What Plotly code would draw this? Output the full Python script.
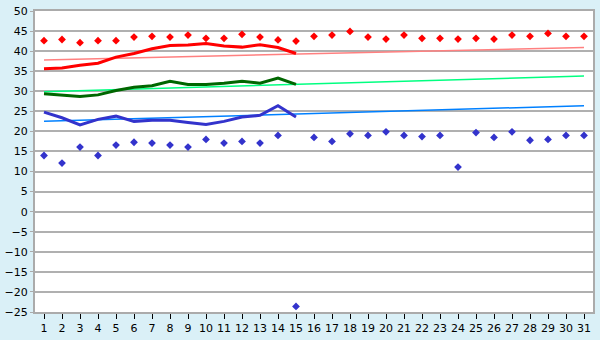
import plotly.graph_objects as go

days = list(range(1, 32))

max_temp = [42.6, 42.9, 42.1, 42.6, 42.6, 43.5, 43.7, 43.5, 44.0, 43.2,
            43.2, 44.2, 43.5, 42.8, 42.5, 43.7, 44.0, 44.9, 43.5, 43.0,
            44.0, 43.2, 43.2, 43.0, 43.2, 43.0, 44.0, 43.7, 44.4, 43.7, 43.7]
min_temp = [14.0, 12.1, 16.1, 14.0, 16.6, 17.3, 17.1, 16.6, 16.1, 18.0,
            17.1, 17.5, 17.1, 19.0, -23.6, 18.5, 17.5, 19.4, 19.0, 19.9,
            19.0, 18.7, 19.0, 11.1, 19.7, 18.5, 19.9, 17.8, 18.0, 19.0, 19.0]

days_cur = list(range(1, 16))
red_cur = [35.6, 35.8, 36.5, 37.0, 38.5, 39.4, 40.6, 41.4, 41.5, 41.9,
           41.3, 41.0, 41.6, 40.9, 39.4]
green_cur = [29.4, 29.1, 28.7, 29.1, 30.2, 31.0, 31.4, 32.5, 31.7, 31.7,
             32.0, 32.5, 32.0, 33.3, 31.7]
blue_cur = [24.8, 23.4, 21.6, 23.0, 23.8, 22.5, 22.8, 22.8, 22.2, 21.7,
            22.5, 23.6, 24.0, 26.4, 23.6]

trend_days = [1, 31]
red_trend = [37.8, 40.9]
green_trend = [29.9, 33.8]
blue_trend = [22.5, 26.4]

y_ticks = list(range(-25, 51, 5))

fig = go.Figure()

fig.add_trace(go.Scatter(x=trend_days, y=red_trend, mode="lines",
                         line=dict(color="#FF8080", width=1.5), hoverinfo="skip"))
fig.add_trace(go.Scatter(x=trend_days, y=green_trend, mode="lines",
                         line=dict(color="#00FF80", width=1.5), hoverinfo="skip"))
fig.add_trace(go.Scatter(x=trend_days, y=blue_trend, mode="lines",
                         line=dict(color="#0080FF", width=1.5), hoverinfo="skip"))

fig.add_trace(go.Scatter(x=days_cur, y=red_cur, mode="lines",
                         line=dict(color="#FF0000", width=3)))
fig.add_trace(go.Scatter(x=days_cur, y=green_cur, mode="lines",
                         line=dict(color="#006600", width=3)))
fig.add_trace(go.Scatter(x=days_cur, y=blue_cur, mode="lines",
                         line=dict(color="#3333CC", width=3)))

fig.add_trace(go.Scatter(x=days, y=max_temp, mode="markers",
                         marker=dict(symbol="diamond", size=6, color="#FF0000")))
fig.add_trace(go.Scatter(x=days, y=min_temp, mode="markers",
                         marker=dict(symbol="diamond", size=6, color="#3333CC")))

fig.update_layout(
    width=600, height=340,
    margin=dict(l=27, r=5, t=5, b=20),
    paper_bgcolor="#DAF0F7",
    plot_bgcolor="#FFFFFF",
    showlegend=False,
    font=dict(family="DejaVu Sans", size=11, color="#000000"),
)
fig.update_xaxes(
    range=[0.5, 31.5], tickmode="array", tickvals=days,
    ticktext=[str(d) for d in days],
    showgrid=False, zeroline=False,
    showline=True, linecolor="#ABABAB", linewidth=2, mirror=True,
    ticks="outside", ticklen=5, tickcolor="#000000", tickwidth=1,
    tickfont=dict(size=11),
)
fig.update_yaxes(
    range=[-25, 50], tickmode="array", tickvals=y_ticks,
    showgrid=True, gridcolor="#B0B0B0", gridwidth=1.5, zeroline=False,
    showline=True, linecolor="#ABABAB", linewidth=2, mirror=True,
    ticks="outside", ticklen=3, tickcolor="#ABABAB",
    tickfont=dict(size=11),
)

fig.write_html("out.html")
